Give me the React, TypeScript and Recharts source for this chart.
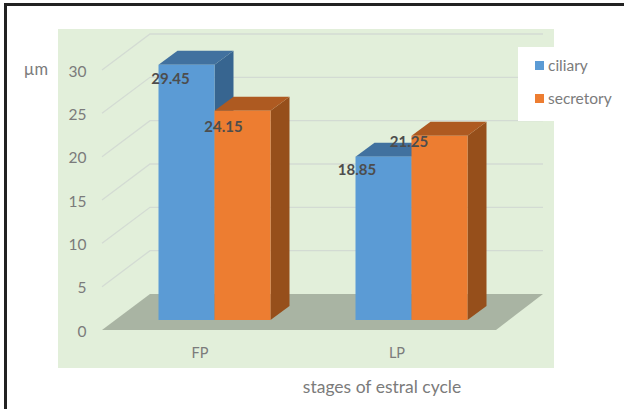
import { BarChart, Bar, XAxis, YAxis, CartesianGrid, Legend, LabelList } from "recharts";

const categories = ["FP", "LP"];
const ciliary = [29.45, 18.85];
const secretory = [24.15, 21.25];
const yTicks = [0, 5, 10, 15, 20, 25, 30];

const data = categories.map((stage, i) => ({
  stage,
  ciliary: ciliary[i],
  secretory: secretory[i],
}));

const FONT = "Lato, 'Open Sans', sans-serif";
const TEXT = "#7b7b7b";
const FLOOR_BOTTOM = 320;

// 3d look: how far the depth faces of a bar go back
const DEPTH_X = 19;
const DEPTH_Y = 14;

// where the data labels sit relative to the top centre of each bar
const ciliaryLabelShift = [
  { dx: -16, dy: 13 },
  { dx: -26.5, dy: 12 },
];
const secretoryLabelShift = [
  { dx: -19, dy: 15 },
  { dx: -30.5, dy: 5 },
];

function Bar3D({ x, y, width, height, fill, topFill, sideFill }: any) {
  const r = x + width;
  const b = y + height;
  return (
    <g>
      <polygon
        points={`${r},${y} ${r + DEPTH_X},${y - DEPTH_Y} ${r + DEPTH_X},${b - DEPTH_Y} ${r},${b}`}
        fill={sideFill}
      />
      <polygon
        points={`${x},${y} ${x + DEPTH_X},${y - DEPTH_Y} ${r + DEPTH_X},${y - DEPTH_Y} ${r},${y}`}
        fill={topFill}
      />
      <rect x={x} y={y} width={width} height={height} fill={fill} />
    </g>
  );
}

function gridLine({ key, x1, x2, y1 }: any) {
  const frontX = x1 - 13.5;
  const backX = x1 + 34.5;
  const endX = x2 + 33.5;
  // the zero line carries the floor of the chart
  if (Math.abs(y1 - FLOOR_BOTTOM) < 1) {
    return (
      <polygon
        key={key}
        points={`${frontX},${y1 + 10} ${x2 - 13.5},${y1 + 10} ${endX},${y1 - 26} ${backX},${y1 - 26}`}
        fill="#a9b4a3"
      />
    );
  }
  return (
    <polyline
      key={key}
      points={`${frontX},${y1 + 10} ${backX},${y1 - 26} ${endX},${y1 - 26}`}
      fill="none"
      stroke="#d3dbd3"
      strokeWidth={1.3}
    />
  );
}

function valueLabel(shifts: { dx: number; dy: number }[]) {
  return ({ x, y, width, value, index }: any) => (
    <text
      x={x + width / 2 + shifts[index].dx}
      y={y + shifts[index].dy}
      textAnchor="middle"
      dominantBaseline="central"
      fontFamily={FONT}
      fontSize={15}
      fontWeight={700}
      fill="#4d4d4d"
    >
      {value}
    </text>
  );
}

function LegendBox({ payload }: any) {
  return (
    <div style={{ position: "relative", width: 106, height: 74, background: "#fff" }}>
      {(payload || []).map((item: any, i: number) => (
        <div
          key={item.value}
          style={{
            position: "absolute",
            left: 17,
            top: 8 + i * 33,
            display: "flex",
            alignItems: "center",
            height: 20,
            fontFamily: FONT,
            fontSize: 15.5,
            color: TEXT,
          }}
        >
          <span style={{ width: 9, height: 9, background: item.color, marginRight: 4 }} />
          {item.value}
        </div>
      ))}
    </div>
  );
}

export default function App() {
  return (
    <div style={{ position: "absolute", left: 0, top: 0, width: 624, height: 409, background: "#fff", overflow: "hidden" }}>
      <div style={{ position: "absolute", left: 4, top: 3, right: -4, bottom: -4, border: "3px solid #222" }} />
      <div style={{ position: "absolute", left: 58, top: 29, width: 496, height: 339, background: "#e2efda" }} />
      <BarChart
        width={624}
        height={409}
        data={data}
        margin={{ top: 60, right: 114.5, bottom: 88, left: 114.5 }}
        barCategoryGap={42}
        barSize={56}
        barGap={0}
        style={{ position: "absolute", left: 0, top: 0 }}
      >
        <CartesianGrid vertical={false} horizontal={gridLine} />
        <XAxis
          dataKey="stage"
          height={1}
          axisLine={false}
          tickLine={false}
          tick={{ dx: -14, dy: 20, fill: TEXT, fontFamily: FONT, fontSize: 14.5 }}
        />
        <YAxis
          width={1}
          domain={[0, 30]}
          ticks={yTicks}
          axisLine={false}
          tickLine={false}
          tick={{ dx: -21, dy: 11, fill: TEXT, fontFamily: FONT, fontSize: 15.5 }}
        />
        <Bar
          dataKey="ciliary"
          fill="#5b9bd5"
          isAnimationActive={false}
          shape={(p: any) => <Bar3D {...p} topFill="#41719f" sideFill="#376590" />}
        >
          <LabelList dataKey="ciliary" content={valueLabel(ciliaryLabelShift)} />
        </Bar>
        <Bar
          dataKey="secretory"
          fill="#ed7d31"
          isAnimationActive={false}
          shape={(p: any) => <Bar3D {...p} topFill="#ae5a21" sideFill="#964f1b" />}
        >
          <LabelList dataKey="secretory" content={valueLabel(secretoryLabelShift)} />
        </Bar>
        <Legend
          layout="vertical"
          align="center"
          verticalAlign="middle"
          wrapperStyle={{ left: 518, top: 47, width: 106, height: 74 }}
          content={<LegendBox />}
        />
        <text x={36} y={69} textAnchor="middle" dominantBaseline="central" fontFamily={FONT} fontSize={16.5} fill={TEXT}>
          µm
        </text>
        <text x={382} y={386} textAnchor="middle" dominantBaseline="central" fontFamily={FONT} fontSize={17.5} fill={TEXT}>
          stages of estral cycle
        </text>
      </BarChart>
    </div>
  );
}
